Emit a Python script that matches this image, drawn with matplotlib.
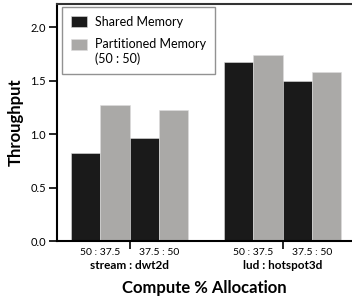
import numpy as np
import matplotlib
matplotlib.use('Agg')
import matplotlib.pyplot as plt

# values
groups = ['stream : dwt2d', 'lud : hotspot3d']
ratios = ['50 : 37.5', '37.5 : 50']
shared = [[0.82, 0.96], [1.67, 1.50]]
partitioned = [[1.27, 1.22], [1.74, 1.58]]

plt.rcParams['font.family'] = ['Lato', 'DejaVu Sans']

def main():
    fig = plt.figure(figsize=(3.52, 3.02), dpi=100)
    ax = fig.add_axes([57/352, 61/302, 1.0 - 57/352, 237/302])

    w = 29.3 / 153
    black = '#1a1a1a'
    gray = '#aaa9a7'
    label_pos = []
    for g in range(len(groups)):
        for r in range(len(ratios)):
            base = g + (r - 1) * 2 * w
            ax.bar(base + 0.5 * w, shared[g][r], width=w, color=black,
                   edgecolor='#dddddd', linewidth=0.4,
                   label='Shared Memory' if g == 0 and r == 0 else None)
            ax.bar(base + 1.5 * w, partitioned[g][r], width=w, color=gray,
                   edgecolor='#dddddd', linewidth=0.4,
                   label='Partitioned Memory\n(50 : 50)' if g == 0 and r == 0 else None)
            label_pos.append(base + w)

    ax.set_xlim(-72.5/153, 222.5/153)
    ax.set_ylim(0, 2.215)
    ax.set_yticks([0.0, 0.5, 1.0, 1.5, 2.0])
    ax.set_yticklabels(['0.0', '0.5', '1.0', '1.5', '2.0'], fontsize=8)
    ax.tick_params(axis='y', length=6, width=1.2, pad=2)

    ax.set_xticks(range(len(groups)))
    ax.set_xticklabels([])
    ax.tick_params(axis='x', which='major', length=6, width=1.2, direction='out')
    ax.set_xticks(label_pos, minor=True)
    ax.set_xticklabels(ratios * len(groups), minor=True, fontsize=7.5)
    ax.tick_params(axis='x', which='minor', length=0, pad=5)

    for g, name in enumerate(groups):
        ax.text(g, -0.105, name, transform=ax.get_xaxis_transform(),
                ha='center', va='center', fontsize=8.5, fontweight='bold')

    ax.set_xlabel('Compute % Allocation', fontsize=12, fontweight='bold')
    ax.xaxis.set_label_coords(0.5, -0.163)
    ax.set_ylabel('Throughput', fontsize=12, fontweight='bold', labelpad=5)

    ax.spines['right'].set_visible(False)
    ax.spines['left'].set_linewidth(1.5)
    ax.spines['bottom'].set_linewidth(1.5)
    ax.spines['top'].set_linewidth(1.5)
    ax.spines['top'].set_color('#333333')

    leg = ax.legend(loc='upper left', bbox_to_anchor=(5/295, 1 - 3/237),
                    borderaxespad=0, fancybox=False, fontsize=9,
                    handlelength=1.3, handleheight=1.0, labelspacing=0.85,
                    borderpad=0.7, handletextpad=0.65)
    leg.get_frame().set_edgecolor('#777777')
    leg.get_frame().set_linewidth(1.0)
    # put the second patch next to the first line of its label
    p = leg.legend_handles[1]
    p.set_y(p.get_y() + 5.5)

    fig.savefig('out.png', dpi=100)

if __name__ == '__main__':
    main()
